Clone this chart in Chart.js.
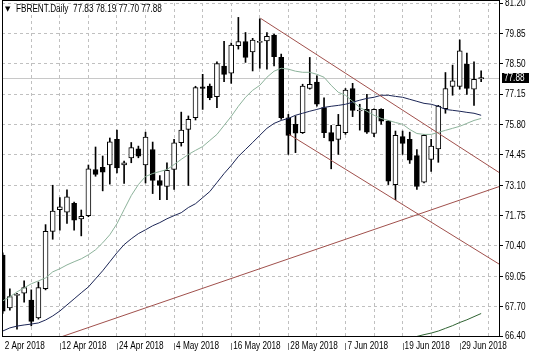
<!DOCTYPE html>
<html><head><meta charset="utf-8">
<script src="https://cdn.jsdelivr.net/npm/chart.js@4.4.1/dist/chart.umd.min.js"></script>
<style>html,body{margin:0;padding:0;background:#fff;overflow:hidden}canvas{display:block}</style>
</head><body>
<canvas id="c" width="536" height="357"></canvas>
<script>
const symbol = 'FBRENT.Daily';
const dates = [
 '2 Apr 2018','3 Apr 2018','4 Apr 2018','5 Apr 2018','6 Apr 2018','9 Apr 2018','10 Apr 2018','11 Apr 2018','12 Apr 2018','13 Apr 2018',
 '16 Apr 2018','17 Apr 2018','18 Apr 2018','19 Apr 2018','20 Apr 2018','23 Apr 2018','24 Apr 2018','25 Apr 2018','26 Apr 2018','27 Apr 2018',
 '30 Apr 2018','1 May 2018','2 May 2018','3 May 2018','4 May 2018','7 May 2018','8 May 2018','9 May 2018','10 May 2018','11 May 2018',
 '14 May 2018','15 May 2018','16 May 2018','17 May 2018','18 May 2018','21 May 2018','22 May 2018','23 May 2018','24 May 2018','25 May 2018',
 '28 May 2018','29 May 2018','30 May 2018','31 May 2018','1 Jun 2018','4 Jun 2018','5 Jun 2018','6 Jun 2018','7 Jun 2018','8 Jun 2018',
 '11 Jun 2018','12 Jun 2018','13 Jun 2018','14 Jun 2018','15 Jun 2018','18 Jun 2018','19 Jun 2018','20 Jun 2018','21 Jun 2018','22 Jun 2018',
 '25 Jun 2018','26 Jun 2018','27 Jun 2018','28 Jun 2018','29 Jun 2018','2 Jul 2018','3 Jul 2018','4 Jul 2018'
];
const opens = [
 70.00,67.65,68.20,68.30,68.00,67.20,68.50,71.05,72.02,71.90,
 72.30,71.60,71.75,73.80,73.90,74.00,75.14,74.00,74.32,74.72,
 74.00,74.69,73.31,73.05,73.80,74.99,75.58,76.10,77.47,77.51,
 77.04,78.40,78.08,79.30,79.49,79.03,79.45,79.52,79.77,78.78,
 76.10,75.81,75.44,77.40,77.69,76.55,75.44,75.14,75.44,77.40,
 76.40,76.47,75.40,76.47,75.95,73.13,75.26,75.14,74.42,73.24,
 74.25,74.72,76.50,77.49,77.49,78.48,77.37,77.83
];
const highs = [
 70.10,68.50,68.30,68.85,68.45,68.80,71.35,73.10,72.55,72.90,
 72.35,72.00,74.00,74.80,74.40,75.20,75.55,74.17,75.00,74.84,
 75.46,75.02,73.53,74.10,75.14,76.35,76.18,77.50,78.03,77.60,
 78.58,79.50,79.42,80.56,79.89,79.63,80.50,79.89,79.82,78.93,
 76.25,76.18,77.59,78.78,77.96,76.99,75.76,76.25,77.40,77.63,
 76.70,77.14,76.50,76.50,75.98,75.51,75.51,75.46,74.69,75.36,
 75.14,76.65,78.11,78.44,79.56,78.97,78.58,78.19
];
const lows = [
 67.40,67.55,66.70,67.90,66.85,67.15,68.45,70.70,71.10,71.40,
 71.10,70.85,71.70,73.50,72.85,73.15,73.65,73.18,74.10,74.32,
 73.20,72.73,72.46,72.46,72.91,74.84,73.09,76.00,76.47,76.90,
 76.55,77.70,77.63,79.15,78.56,78.18,78.30,78.26,78.40,76.03,
 74.47,74.55,75.40,77.37,76.62,75.21,73.83,74.47,75.36,76.15,
 75.55,75.40,75.26,75.81,73.13,72.46,74.47,74.07,72.91,73.20,
 73.72,74.12,76.30,77.10,77.37,77.14,76.65,77.70
];
const closes = [
 67.50,68.15,68.25,68.55,67.05,68.55,71.05,71.95,72.14,72.58,
 71.55,71.72,73.83,73.58,73.68,75.03,73.87,74.10,74.77,74.39,
 75.24,73.32,73.09,73.76,74.99,75.55,76.03,77.44,77.40,76.99,
 78.51,78.03,79.33,79.49,78.78,79.55,79.50,79.72,78.82,76.10,
 75.32,75.41,77.51,77.59,76.70,75.44,75.06,75.76,77.33,76.43,
 76.42,75.46,76.47,75.95,73.28,75.32,74.96,74.21,73.05,75.32,
 74.84,76.62,77.40,77.74,79.07,77.40,77.81,77.88
];
const maFast = [
 67.96,68.14,68.36,68.54,68.72,68.85,68.98,69.25,69.39,69.56,
 69.70,69.83,70.01,70.23,70.54,70.90,71.39,72.02,72.64,73.13,
 73.49,73.62,73.71,73.80,74.02,74.25,74.47,74.65,74.82,75.09,
 75.36,75.76,76.16,76.61,77.01,77.32,77.54,77.90,78.17,78.30,
 78.26,78.17,78.12,78.12,78.03,77.90,77.54,77.23,77.10,76.83,
 76.56,76.39,76.21,76.07,75.98,75.89,75.81,75.58,75.40,75.36,
 75.36,75.45,75.54,75.63,75.72,75.85,75.98,76.07
];
const maSlow = [
 66.62,66.76,66.84,66.89,66.93,66.98,67.11,67.29,67.51,67.78,
 68.05,68.32,68.58,68.94,69.30,69.70,70.10,70.46,70.72,70.95,
 71.12,71.30,71.44,71.61,71.75,71.88,72.11,72.28,72.55,72.82,
 73.22,73.62,73.98,74.38,74.69,75.00,75.32,75.63,75.85,75.98,
 76.07,76.21,76.30,76.39,76.47,76.56,76.61,76.65,76.70,76.79,
 76.88,76.96,77.01,77.10,77.10,77.05,77.01,76.92,76.83,76.74,
 76.70,76.61,76.47,76.43,76.39,76.34,76.30,76.21
];
const maLongStart = 57;
const maLongTail = [66.27,66.38,66.46,66.53,66.62,66.74,66.86,67.00,67.12,67.26,67.40];
const resistanceLine = [[36.1, 80.52], [69.6, 73.65]];
const channelLowLine = [[40.1, 75.36], [69.6, 69.58]];
const supportLine = [[7.9, 66.33], [69.6, 73.05]];
const yTicks = [66.40, 67.70, 69.05, 70.40, 71.75, 73.10, 74.45, 75.80, 77.15, 78.50, 79.85, 81.20];
const xGridEvery = 4;
const xLabelEvery = 8;

const FONT = "'Liberation Sans', Arial, sans-serif";
const SX = 0.82; // horizontal squeeze of the text, as in the reference
Chart.defaults.font.family = FONT;
Chart.defaults.font.size = 10;
Chart.defaults.color = '#000';

const n = dates.length;
const last = n - 1;
const idx = dates.map((_, i) => i);
const gridIdx = [];
for (let i = 0; i <= n; i += xGridEvery) gridIdx.push(i);
const pts = arr => arr.map(([x, y]) => ({x, y}));
const isUp = i => closes[i] >= opens[i];

function squeezedText(g, text, x, y) {
  g.save(); g.translate(x, y); g.scale(SX, 1); g.fillText(text, 0, 0); g.restore();
}

const bgPlugin = { id: 'bg', beforeDraw(c) { const g = c.ctx; g.save(); g.fillStyle = '#fff'; g.fillRect(0, 0, c.width, c.height); g.restore(); } };
const priceLinePlugin = { id: 'priceLine', beforeDatasetsDraw(c) {
  const g = c.ctx, a = c.chartArea, py = Math.round(c.scales.y.getPixelForValue(closes[last])) + 0.5;
  g.save(); g.strokeStyle = '#c8c8c8'; g.lineWidth = 1; g.beginPath(); g.moveTo(a.left, py); g.lineTo(a.right, py); g.stroke(); g.restore();
}};
const decorPlugin = { id: 'decor', afterDraw(c) {
  const g = c.ctx, a = c.chartArea, xs = c.scales.x, ys = c.scales.y;
  g.save();
  g.strokeStyle = '#000'; g.lineWidth = 1;
  g.strokeRect(Math.round(a.left) + 0.5, 0.5, Math.round(a.right) - Math.round(a.left), Math.round(a.bottom));
  g.font = '10px ' + FONT; g.textBaseline = 'middle'; g.textAlign = 'left'; g.fillStyle = '#000';
  // time axis labels + separators
  g.strokeStyle = '#777';
  for (let i = 0; i < n; i += xLabelEvery) {
    const px = xs.getPixelForValue(i);
    if (i > 0) { const sx = Math.round(px) + 0.5; g.beginPath(); g.moveTo(sx, a.bottom + 7); g.lineTo(sx, a.bottom + 14); g.stroke(); }
    squeezedText(g, dates[i], px + 2, a.bottom + 10.5);
  }
  // price axis labels
  for (const v of yTicks) squeezedText(g, v.toFixed(2), a.right + 6, ys.getPixelForValue(v) + 0.5);
  // price box
  const py = ys.getPixelForValue(closes[last]);
  g.fillStyle = '#000'; g.fillRect(a.right + 3, Math.round(py) - 5, 27, 10);
  g.fillStyle = '#fff';
  squeezedText(g, closes[last].toFixed(2), a.right + 5, py + 0.5);
  // header
  g.fillStyle = '#000';
  g.font = '7px DejaVu Sans'; g.fillText('▼', 5, 9);
  g.font = '10px ' + FONT;
  squeezedText(g, symbol + '  ' + [opens[last], highs[last], lows[last], closes[last]].map(v => v.toFixed(2)).join(' '), 16, 9.5);
  g.restore();
}};

new Chart(document.getElementById('c'), {
  type: 'bar',
  data: { datasets: [
    { type: 'line', label: 'resistance', data: pts(resistanceLine), borderColor: '#a0504c', borderWidth: 1, pointRadius: 0, order: 0 },
    { type: 'line', label: 'channel', data: pts(channelLowLine), borderColor: '#a0504c', borderWidth: 1, pointRadius: 0, order: 0 },
    { type: 'line', label: 'support', data: pts(supportLine), borderColor: '#a0504c', borderWidth: 1, pointRadius: 0, order: 0 },
    { type: 'line', label: 'MA fast', data: idx.map(i => ({x: i, y: maFast[i]})), borderColor: '#8db39b', borderWidth: 1, pointRadius: 0, order: 0 },
    { type: 'line', label: 'MA slow', data: idx.map(i => ({x: i, y: maSlow[i]})), borderColor: '#1c2656', borderWidth: 1, pointRadius: 0, order: 0 },
    { type: 'line', label: 'MA long', data: maLongTail.map((v, k) => ({x: maLongStart + k, y: v})), borderColor: '#2f6332', borderWidth: 1, pointRadius: 0, order: 0 },
    { type: 'bar', label: 'body', data: idx.map(i => ({x: i, y: [Math.min(opens[i], closes[i]), Math.max(opens[i], closes[i])]})),
      barThickness: 5, grouped: false, minBarLength: 1, borderSkipped: false, borderWidth: 1, borderColor: '#000',
      backgroundColor: ctx => isUp(ctx.dataIndex) ? '#fff' : '#000', order: 1 },
    { type: 'bar', label: 'wick', data: idx.map(i => ({x: i, y: [lows[i], highs[i]]})),
      barThickness: 1, grouped: false, borderWidth: 0, backgroundColor: '#000', order: 2 }
  ]},
  options: {
    responsive: false, animation: false, devicePixelRatio: 1,
    layout: { padding: { left: 2, top: 3, right: 0, bottom: 0 } },
    plugins: { legend: { display: false }, tooltip: { enabled: false } },
    scales: {
      x: {
        type: 'linear', min: -0.1, max: 69.5, offset: false,
        afterBuildTicks: s => { s.ticks = gridIdx.map(v => ({value: v})); },
        afterFit: s => { s.height = 21; s.paddingLeft = 0; s.paddingRight = 0; },
        ticks: { display: false },
        grid: { color: '#c0c0c0', drawTicks: false, offset: false },
        border: { display: false, dash: [3, 3] }
      },
      y: {
        position: 'right', min: 66.40, max: 81.20,
        afterBuildTicks: s => { s.ticks = yTicks.map(v => ({value: v})); },
        afterFit: s => { s.width = 37; s.paddingTop = 0; s.paddingBottom = 0; },
        ticks: { display: false },
        grid: { color: '#c0c0c0', tickLength: 4, tickColor: '#000' },
        border: { display: false, dash: [3, 3] }
      }
    }
  },
  plugins: [bgPlugin, priceLinePlugin, decorPlugin]
});
</script>
</body></html>
